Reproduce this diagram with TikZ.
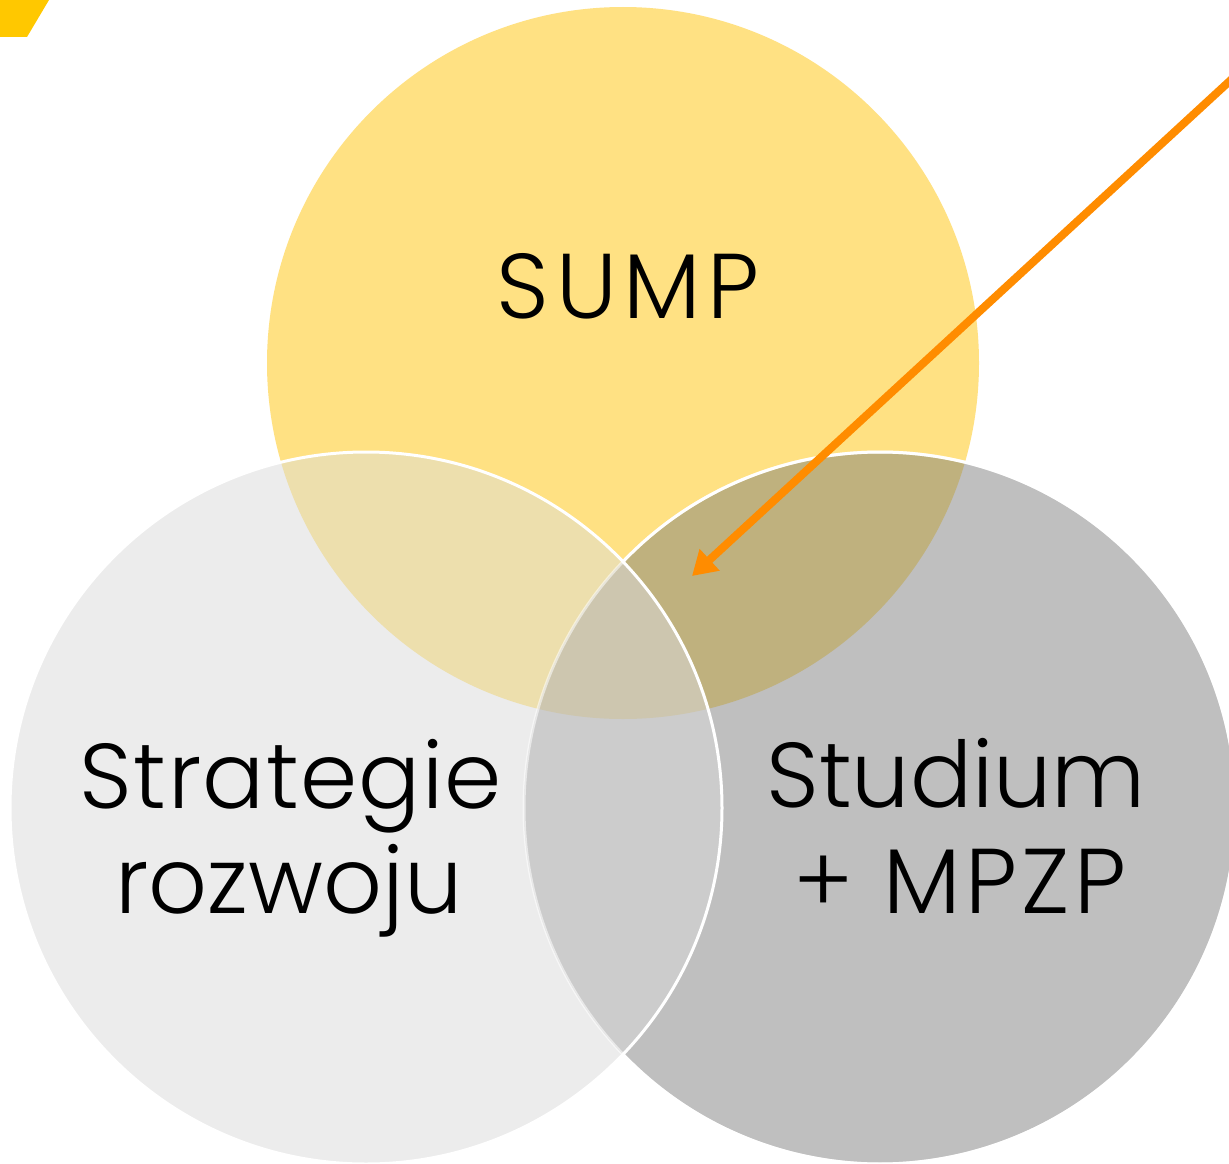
\documentclass[tikz,border=0pt]{standalone}
\usepackage{fontspec}
\setmainfont{Poppins Light}
\usetikzlibrary{arrows.meta}
\definecolor{sumpY}{HTML}{FFE183}
\definecolor{stratL}{HTML}{ECECEC}
\definecolor{studR}{HTML}{BFBFBF}
\definecolor{YL}{HTML}{EDDFAD}
\definecolor{YR}{HTML}{BFB17E}
\definecolor{LR}{HTML}{CCCCCC}
\definecolor{YLR}{HTML}{CDC6AF}
\definecolor{cornerY}{HTML}{FFC800}
\definecolor{arrowO}{HTML}{FF8C00}
\begin{document}
\begin{tikzpicture}[x=1pt,y=-1pt,
  lbl/.style={inner sep=0pt, anchor=base, font=\fontsize{92}{105}\selectfont, text=black},
  rim/.style={white, line width=3pt}]
\useasboundingbox (0,0) rectangle (1229,1164);
\clip (0,0) rectangle (1229,1164);
\fill[white] (0,0) rectangle (1229,1164);
\coordinate (cY) at (623,363);
\coordinate (cL) at (366,808);
\coordinate (cR) at (880,808);
\def\rr{356}
% corner mark
\fill[cornerY] (0,0) -- (49,0) -- (27,37) -- (0,37) -- cycle;
% base fills
\fill[sumpY] (cY) circle[radius=\rr];
\fill[stratL] (cL) circle[radius=\rr];
\fill[studR] (cR) circle[radius=\rr];
% pairwise overlaps
\begin{scope}
  \clip (cY) circle[radius=\rr];
  \fill[YL] (cL) circle[radius=\rr];
  \fill[YR] (cR) circle[radius=\rr];
\end{scope}
\begin{scope}
  \clip (cL) circle[radius=\rr];
  \fill[LR] (cR) circle[radius=\rr];
  \clip (cY) circle[radius=\rr];
  \fill[YLR] (cR) circle[radius=\rr];
\end{scope}
% outlines
\draw[rim, draw opacity=0.55] (cR) circle[radius=\rr];
\draw[rim] (cR) ++(223.7:\rr) arc[start angle=223.7, end angle=496.3, radius=\rr];
\draw[rim] (cL) circle[radius=\rr];
% labels
\node[lbl] (sump) at (628,318) {\addfontfeature{LetterSpace=7}SUMP};
\node[lbl] (strat1) at (291,808) {\addfontfeature{LetterSpace=1.5}Strategie};
\node[lbl] (strat2) at (289,913) {rozwoju};
\node[lbl] (stud1) at (956,807) {Studium};
\node[lbl] (stud2) at (960,913) {\addfontfeature{LetterSpace=5}+ MPZP};
% arrow
\coordinate (src) at (1233,78);
\coordinate (tip) at (692,576);
\draw[arrowO, line width=8pt, -{Triangle[length=24pt,width=28pt]}] (src) -- (tip);
\end{tikzpicture}
\end{document}
